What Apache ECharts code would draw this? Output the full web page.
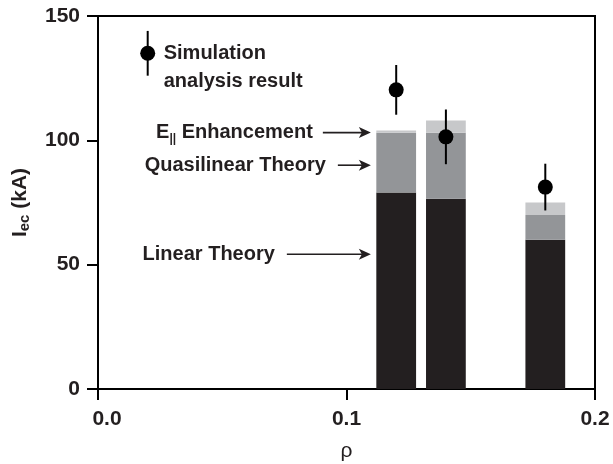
<!DOCTYPE html>
<html>
<head>
<meta charset="utf-8">
<script src="https://cdn.jsdelivr.net/npm/echarts@6/dist/echarts.min.js"></script>
<style>
  html, body { margin: 0; padding: 0; background: #fff; }
  #chart { width: 613px; height: 464px; }
</style>
</head>
<body>
<div id="chart"></div>
<script>
// Radial positions of the three cases
const rho = [0.12, 0.14, 0.18];
// Cumulative tops of each stacked contribution (kA)
const linearTop = [79, 76.5, 60];
const quasilinearTop = [103, 103, 70];
const enhancementTop = [104, 108, 75];
// Simulation analysis result with its error half-width (kA)
const simValue = [120.3, 101.4, 81.2];
const simError = [10, 11, 9.4];
// Key marker: [rho, value, error]
const keyPoint = [0.02, 135, 9];
const keyText = ['Simulation', 'analysis result'];
// Annotation labels and the level each arrow points at (kA)
const annotText = ['{b|E}{s|||}{b| Enhancement}', 'Quasilinear Theory', 'Linear Theory'];
const annotLevel = [103.1, 90, 54.2];
const annotTipRho = 0.1098;
// Bar width in rho units
const barWidthRho = 0.016;
// Axis ranges
const xRange = [0, 0.2, 0.1];
const yRange = [0, 150, 50];

const INK = '#231f20';
const FONT = '"Liberation Sans", Arial, Helvetica, sans-serif';
const layerColors = ['#231f20', '#939598', '#c7c8ca'];

const chart = echarts.init(document.getElementById('chart'), null, { renderer: 'canvas' });

function layerData(bottom, top) {
  return rho.map((r, i) => [r, bottom ? bottom[i] : 0, top[i]]);
}

function barRenderer(color) {
  return function (params, api) {
    const x = api.value(0), lo = api.value(1), hi = api.value(2);
    const p0 = api.coord([x - barWidthRho / 2, hi]);
    const p1 = api.coord([x + barWidthRho / 2, lo]);
    return {
      type: 'rect',
      shape: { x: p0[0], y: p0[1], width: p1[0] - p0[0], height: p1[1] - p0[1] },
      style: { fill: color }
    };
  };
}

function errorRenderer(params, api) {
  const x = api.value(0), v = api.value(1), e = api.value(2);
  const a = api.coord([x, v + e]);
  const b = api.coord([x, v - e]);
  return {
    type: 'line',
    shape: { x1: a[0], y1: a[1], x2: b[0], y2: b[1] },
    style: { stroke: '#000', lineWidth: 2 }
  };
}

const simData = rho.map((r, i) => [r, simValue[i], simError[i]]);

const option = {
  animation: false,
  backgroundColor: '#fff',
  textStyle: { fontFamily: FONT },
  grid: {
    left: 98, right: 18, top: 16, bottom: 75,
    outerBoundsMode: 'none',
    containLabel: false,
    show: true, borderColor: '#000', borderWidth: 2, backgroundColor: 'transparent'
  },
  xAxis: {
    type: 'value',
    min: xRange[0], max: xRange[1], interval: xRange[2],
    axisLine: { show: true, onZero: false, lineStyle: { color: '#000', width: 2 } },
    axisTick: { show: true, inside: false, length: 11, lineStyle: { color: '#000', width: 2 } },
    splitLine: { show: false },
    axisLabel: {
      margin: 20,
      color: INK, fontSize: 21, fontWeight: 'bold', fontFamily: FONT,
      formatter: function (v) {
        const t = v.toFixed(1);
        return v === 0 ? '{z|' + t + '}' : t;
      },
      rich: { z: { padding: [0, 0, 0, 18], color: INK, fontSize: 21, fontWeight: 'bold', fontFamily: FONT } }
    },
    name: 'ρ',
    nameLocation: 'middle',
    nameGap: 52,
    nameTextStyle: { color: INK, fontSize: 21, fontFamily: FONT }
  },
  yAxis: {
    type: 'value',
    min: yRange[0], max: yRange[1], interval: yRange[2],
    axisLine: { show: true, onZero: false, lineStyle: { color: '#000', width: 2 } },
    axisTick: { show: true, inside: false, length: 11, lineStyle: { color: '#000', width: 2 } },
    splitLine: { show: false },
    axisLabel: { margin: 18, color: INK, fontSize: 21, fontWeight: 'bold', fontFamily: FONT },
    name: '{m|I}{s|ec}{m| (kA)}',
    nameLocation: 'middle',
    nameRotate: 90,
    nameGap: 66,
    nameTextStyle: {
      rich: {
        m: { color: INK, fontSize: 21, fontWeight: 'bold', fontFamily: FONT, lineHeight: 24 },
        s: { color: INK, fontSize: 15, fontWeight: 'bold', fontFamily: FONT, lineHeight: 12, verticalAlign: 'bottom' }
      }
    }
  },
  series: [
    { type: 'custom', name: 'Linear Theory', renderItem: barRenderer(layerColors[0]), data: layerData(null, linearTop), z: 2 },
    { type: 'custom', name: 'Quasilinear Theory', renderItem: barRenderer(layerColors[1]), data: layerData(linearTop, quasilinearTop), z: 2 },
    { type: 'custom', name: 'E Enhancement', renderItem: barRenderer(layerColors[2]), data: layerData(quasilinearTop, enhancementTop), z: 2 },
    { type: 'custom', name: 'error', renderItem: errorRenderer, data: simData.concat([keyPoint]), z: 5 },
    {
      type: 'scatter', name: 'Simulation analysis result',
      data: simData.concat([keyPoint]).map(d => [d[0], d[1]]),
      symbol: 'circle', symbolSize: 15,
      itemStyle: { color: '#000', opacity: 1 }, z: 6
    }
  ]
};

chart.setOption(option);

// Annotation layer: key text and labelled arrows, placed from data coordinates
function arrow(x1, y, x2) {
  return [
    { type: 'line', shape: { x1: x1, y1: y, x2: x2 - 6, y2: y }, style: { stroke: INK, lineWidth: 1.6 } },
    { type: 'polygon', shape: { points: [[x2, y], [x2 - 12, y - 5.5], [x2 - 9, y], [x2 - 12, y + 5.5]] }, style: { fill: INK } }
  ];
}

const keyPx = chart.convertToPixel({ gridIndex: 0 }, [keyPoint[0], keyPoint[1]]);
const graphics = [
  {
    type: 'text', x: keyPx[0] + 16, y: keyPx[1] - 14,
    style: {
      text: keyText.join('\n'), fill: INK, font: 'bold 20px ' + FONT,
      lineHeight: 28, verticalAlign: 'top', align: 'left'
    }
  }
];

const arrowLen = [48, 33, 84];
const textGap = [10, 12, 12];
annotText.forEach((t, i) => {
  const tip = chart.convertToPixel({ gridIndex: 0 }, [annotTipRho, annotLevel[i]]);
  const start = tip[0] - arrowLen[i];
  arrow(start, tip[1], tip[0]).forEach(g => graphics.push(g));
  graphics.push({
    type: 'text', x: start - textGap[i], y: tip[1],
    style: {
      text: t, fill: INK, font: 'bold 20px ' + FONT,
      align: 'right', verticalAlign: 'middle',
      rich: {
        b: { fill: INK, font: 'bold 20px ' + FONT, lineHeight: 24 },
        s: { fill: INK, font: 'bold 12px ' + FONT, lineHeight: 12, verticalAlign: 'bottom' }
      }
    }
  });
});

chart.setOption({ graphic: graphics });
</script>
</body>
</html>
